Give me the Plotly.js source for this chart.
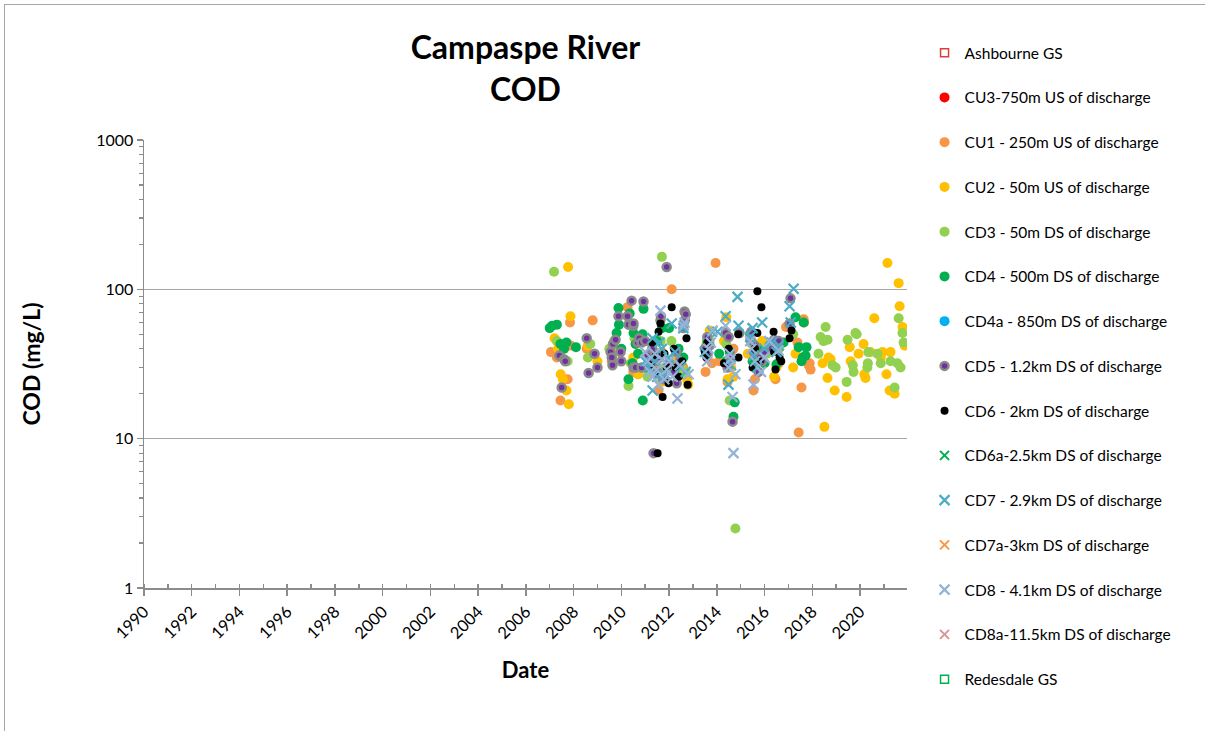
<!DOCTYPE html>
<html>
<head>
<meta charset="utf-8">
<script src="https://cdn.plot.ly/plotly-3.0.1.min.js"></script>
<style>
  html, body { margin:0; padding:0; background:#fff; }
  #frame { position:absolute; left:4px; top:4px; width:1400px; height:900px; border:1px solid #a6a6a6; box-sizing:border-box; pointer-events:none; }
  #chart { position:absolute; left:0; top:0; width:1205px; height:731px; }
</style>
</head>
<body>
<div id="chart"></div>
<div id="frame"></div>
<script>
// ---- Data (x = decimal year of sample, y = COD mg/L) ----
const seriesNames = [
  "Ashbourne GS",
  "CU3-750m US of discharge",
  "CU1 - 250m US of discharge",
  "CU2 - 50m US of discharge",
  "CD3 - 50m DS of discharge",
  "CD4 - 500m DS of discharge",
  "CD4a - 850m DS of discharge",
  "CD5 - 1.2km DS of discharge",
  "CD6 - 2km DS of discharge",
  "CD6a-2.5km DS of discharge",
  "CD7 - 2.9km DS of discharge",
  "CD7a-3km DS of discharge",
  "CD8 - 4.1km DS of discharge",
  "CD8a-11.5km DS of discharge",
  "Redesdale GS"
];

const ashbourneX = [], ashbourneY = [];
const cu3X = [], cu3Y = [];

const cu1X = [2007.05,2007.3,2007.45,2007.6,2007.75,2007.85,2007.88,2008.55,2008.8,2009.6,2010.26,2010.5,2010.7,2011.1,2011.3,2011.56,2011.7,2012.11,2012.4,2012.6,2013.53,2013.6,2013.8,2013.95,2014.1,2014.45,2014.6,2014.7,2015.54,2015.6,2015.7,2016.46,2016.6,2016.9,2017.38,2017.43,2017.55,2017.64,2017.66,2017.85,2017.89,2017.93];
const cu1Y = [38,35,18,25,25,60,42,40,62,33,76,28,27,30,33,21,38,100,30,30,28,35,32,150,33,24,36,40,21,25,37,25,32,56,44,11,22,63,60,31,32,29];

const cu2X = [2007.2,2007.35,2007.46,2007.55,2007.7,2007.77,2007.8,2007.87,2008.6,2009.0,2009.7,2010.5,2010.72,2011.2,2011.5,2011.7,2012.3,2012.5,2012.75,2012.8,2013.55,2013.7,2014.3,2014.4,2014.45,2014.6,2014.7,2015.3,2015.6,2015.9,2016.4,2016.5,2017.2,2017.3,2018.43,2018.51,2018.64,2018.68,2018.77,2018.94,2019.44,2019.57,2019.61,2019.94,2020.15,2020.18,2020.23,2020.44,2020.6,2020.87,2020.94,2021.11,2021.15,2021.24,2021.28,2021.45,2021.62,2021.66,2021.78,2021.87];
const cu2Y = [47,40,27,25,21,141,17,66,42,33,38,35,27,36,30,24,34,30,25,23,42,53,45,65,25,30,26,37,34,45,26,30,30,37,32,12,25.5,35,34,21,19,41,33,37,43,27,25.5,38,64,35,38,27,150,21,38,20,110,77,56,42];

const cd3X = [2007.18,2007.3,2007.6,2007.75,2008.6,2008.7,2009.5,2009.7,2010.3,2010.4,2010.55,2010.6,2011.1,2011.65,2011.7,2011.8,2012.1,2012.5,2012.7,2013.6,2013.7,2014.4,2014.54,2014.78,2015.5,2015.6,2016.1,2016.5,2016.6,2017.2,2018.26,2018.35,2018.47,2018.56,2018.64,2018.85,2018.98,2019.44,2019.48,2019.7,2019.73,2019.81,2019.86,2020.31,2020.33,2020.35,2020.73,2020.87,2021.28,2021.45,2021.57,2021.62,2021.7,2021.78,2021.83];
const cd3Y = [131,45,40,33,35,43,40,45,22.5,32,47,43,26,45,165,30,45,27,28,42,45,43,18,2.5,44,30,37,43,40,50,37,48,45,56,46,31,30,24,46,31,28,51,50,30,32,38,37,32,33,22,32,64,30,51,44];

const cd4X = [2007.0,2007.1,2007.3,2007.45,2007.6,2007.7,2008.1,2009.8,2009.88,2009.9,2010.0,2010.3,2010.35,2010.47,2010.51,2010.6,2010.7,2010.89,2010.9,2010.93,2011.0,2011.3,2011.5,2011.7,2012.0,2012.4,2012.6,2013.6,2014.1,2014.4,2014.54,2014.7,2014.75,2015.4,2015.5,2015.7,2016.0,2016.2,2016.46,2016.5,2016.8,2017.3,2017.43,2017.55,2017.6,2017.64,2017.72,2017.76];
const cd4Y = [55,57,58,43,40,44,41,51,75,58,40,25,69,32,51,43,37,50,18,74,30,40,45,55,55,40,35,45,37,33,38,14,17.5,50,33,40,32,42,41,31.5,44,65,41,33,35,60,36,41];

const cd4aX = [], cd4aY = [];

const cd5X = [2007.4,2007.5,2007.6,2007.65,2008.55,2008.63,2008.88,2009.0,2009.55,2009.6,2009.63,2009.65,2009.76,2009.88,2009.97,2010.0,2010.26,2010.3,2010.43,2010.5,2010.51,2010.51,2010.6,2010.68,2010.75,2010.85,2010.85,2010.93,2011.0,2011.1,2011.2,2011.3,2011.35,2011.45,2011.5,2011.6,2011.64,2011.66,2011.75,2011.9,2012.0,2012.2,2012.3,2012.32,2012.45,2012.6,2012.65,2012.66,2012.7,2013.5,2013.6,2013.62,2013.7,2014.37,2014.45,2014.5,2014.6,2014.66,2014.95,2015.41,2015.45,2015.55,2015.6,2015.75,2015.8,2015.9,2016.0,2016.3,2016.4,2016.6,2017.05,2017.09];
const cd5Y = [36,22,34,33,47,27.5,37,30,38,35,31,43,46,66,38,33,66,58,84,57,59,30,30,44,47,44,30,83,45,36,33,40,8.0,33,28,35,62,66,25,141,32,28,38,23.5,33,55,71,62,68,40,48,37,42,51,30,48,35,13,51,46,52,38,42,28,35,33,38,40,46,45,59,87];

const cd6X = [2011.22,2011.3,2011.4,2011.45,2011.52,2011.56,2011.64,2011.73,2011.81,2011.9,2011.98,2012.11,2012.2,2012.28,2012.4,2012.55,2012.73,2012.78,2013.5,2013.57,2013.61,2014.3,2014.5,2014.9,2014.91,2015.5,2015.6,2015.7,2015.7,2015.8,2015.87,2016.38,2016.4,2016.46,2016.63,2016.7,2017.05,2017.13];
const cd6Y = [31,44,27,36,8.0,52,59,19,37,30,23.5,76,40,30,26,33,47,23,38,35,44,32,40,50,35,30,40,51,97,33,76,52,38,29,35,33,47,53];

const cd6aX = [], cd6aY = [];

const cd7X = [2011.0,2011.15,2011.31,2011.31,2011.4,2011.5,2011.6,2011.7,2011.85,2011.98,2012.11,2012.25,2012.5,2012.6,2012.7,2013.5,2013.8,2014.03,2014.37,2014.49,2014.6,2014.87,2014.91,2015.4,2015.5,2015.55,2015.7,2015.9,2016.0,2016.3,2016.5,2016.6,2017.05,2017.1,2017.22];
const cd7Y = [33,30,21,47,33,26,44,40,27,35,59,38,30,55,28,38,52,52,66,23,31,89,57,48,55,36,30,60,40,44,38,42,77,60,101];

const cd7aX = [], cd7aY = [];

const cd8X = [2011.0,2011.1,2011.2,2011.31,2011.4,2011.48,2011.55,2011.64,2011.7,2011.8,2011.9,2012.0,2012.15,2012.35,2012.45,2012.61,2012.65,2012.82,2013.6,2013.65,2013.75,2013.82,2014.37,2014.49,2014.55,2014.58,2014.66,2014.7,2014.78,2015.4,2015.45,2015.54,2015.6,2015.85,2016.0,2016.2,2016.58];
const cd8Y = [38,33,28,26,37,29,23,72,34,25,29,33,26,18.6,31,57,60,27,33,40,44,53,57,30,37,34,19,8.0,27,45,40,23,33,28,35,45,39];

const cd8aX = [], cd8aY = [];
const redesdaleX = [], redesdaleY = [];

// ---- Styles ----
const styles = [
  {x: ashbourneX, y: ashbourneY, marker: {symbol: 'square-open', color: '#d9403a', size: 8, line: {width: 1.5}}},
  {x: cu3X, y: cu3Y, marker: {symbol: 'circle', color: '#ff0000', size: 10}},
  {x: cu1X, y: cu1Y, marker: {symbol: 'circle', color: '#f79646', size: 10}},
  {x: cu2X, y: cu2Y, marker: {symbol: 'circle', color: '#ffc000', size: 10}},
  {x: cd3X, y: cd3Y, marker: {symbol: 'circle', color: '#92d050', size: 10}},
  {x: cd4X, y: cd4Y, marker: {symbol: 'circle', color: '#00b050', size: 10}},
  {x: cd4aX, y: cd4aY, marker: {symbol: 'circle', color: '#00b0f0', size: 10}},
  {x: cd5X, y: cd5Y, marker: {symbol: 'circle', color: '#7030a0', size: 8, line: {color: '#8a8a8a', width: 2.5}}},
  {x: cd6X, y: cd6Y, marker: {symbol: 'circle', color: '#000000', size: 8}},
  {x: cd6aX, y: cd6aY, marker: {symbol: 'x-thin-open', color: '#00b050', size: 9, line: {color: '#00b050', width: 2}}},
  {x: cd7X, y: cd7Y, marker: {symbol: 'x-thin-open', color: '#4bacc6', size: 10, line: {color: '#4bacc6', width: 2.2}}},
  {x: cd7aX, y: cd7aY, marker: {symbol: 'x-thin-open', color: '#f79646', size: 9, line: {color: '#f79646', width: 2}}},
  {x: cd8X, y: cd8Y, marker: {symbol: 'x-thin-open', color: '#95b3d7', size: 10, line: {color: '#95b3d7', width: 2.2}}},
  {x: cd8aX, y: cd8aY, marker: {symbol: 'x-thin-open', color: '#d99694', size: 9, line: {color: '#d99694', width: 2}}},
  {x: redesdaleX, y: redesdaleY, marker: {symbol: 'square-open', color: '#00b050', size: 8, line: {width: 1.5}}}
];

const traces = styles.map((s, i) => ({
  type: 'scatter',
  mode: 'markers',
  name: seriesNames[i],
  legendgroup: 'g' + i,
  x: s.x.length ? s.x : [null],
  y: s.y.length ? s.y : [null],
  marker: s.marker,
  cliponaxis: true
}));

const FONT = "Lato, 'Open Sans', sans-serif";
const axisGray = '#8c8c8c';

const layout = {
  width: 1205,
  height: 731,
  margin: {l: 144, r: 298, t: 140, b: 143},
  paper_bgcolor: '#ffffff',
  plot_bgcolor: '#ffffff',
  font: {family: FONT, color: '#000000', size: 16},
  title: {
    text: 'Campaspe River<br>COD',
    font: {family: FONT, size: 32, weight: 700, color: '#000'},
    x: 0.5, xref: 'paper', xanchor: 'center',
    y: 0.919, yref: 'container', yanchor: 'middle'
  },
  xaxis: {
    type: 'linear',
    range: [1990, 2021.97],
    tick0: 1990,
    dtick: 2,
    tickangle: -45,
    ticks: 'outside',
    ticklen: 6,
    tickwidth: 1.5,
    tickcolor: axisGray,
    tickfont: {family: FONT, size: 16.5},
    showline: true,
    linecolor: axisGray,
    linewidth: 1.5,
    showgrid: false,
    zeroline: false,
    minor: {dtick: 1, ticks: 'inside', ticklen: 4, tickwidth: 1.5, tickcolor: axisGray, showgrid: false},
    title: {text: 'Date', font: {family: FONT, size: 22, weight: 700}, standoff: 21}
  },
  yaxis: {
    type: 'log',
    range: [0, 3],
    tickvals: [1, 10, 100, 1000],
    ticktext: ['1', '10', '100', '1000'],
    ticks: 'outside',
    ticklen: 6,
    tickwidth: 1.5,
    tickcolor: axisGray,
    tickfont: {family: FONT, size: 16},
    showline: true,
    linecolor: axisGray,
    linewidth: 1.5,
    showgrid: true,
    gridcolor: '#a6a6a6',
    gridwidth: 1.5,
    zeroline: false,
    minor: {tickvals: [2,3,4,5,6,7,8,9,20,30,40,50,60,70,80,90,200,300,400,500,600,700,800,900], ticks: 'outside', ticklen: 4, tickwidth: 1.2, tickcolor: axisGray, showgrid: false},
    title: {text: 'COD (mg/L)', font: {family: FONT, size: 23, weight: 700}, standoff: 49}
  },
  showlegend: true,
  legend: {
    x: 1.023, xref: 'paper', xanchor: 'left',
    y: 1.232, yref: 'paper', yanchor: 'top',
    font: {family: FONT, size: 15.5, color: '#000'},
    bgcolor: 'rgba(0,0,0,0)',
    traceorder: 'grouped',
    tracegroupgap: 21.6,
    itemwidth: 30,
    maxheight: 710
  }
};

Plotly.newPlot('chart', traces, layout, {displayModeBar: false, staticPlot: true});
</script>
</body>
</html>
